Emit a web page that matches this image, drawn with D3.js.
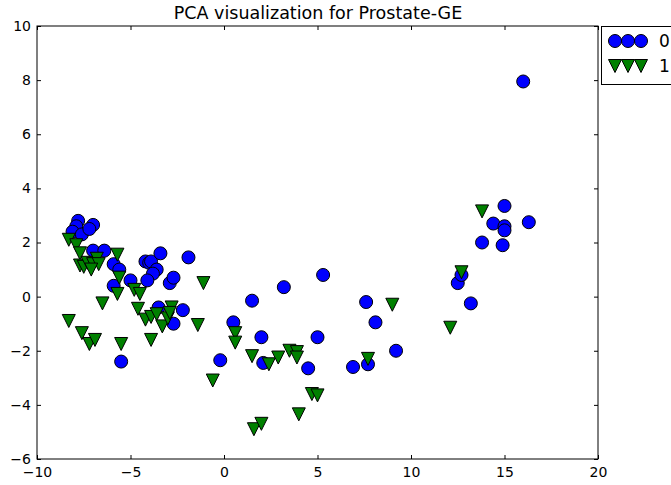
<!DOCTYPE html>
<html><head><meta charset="utf-8">
<script src="https://cdn.jsdelivr.net/npm/d3@7"></script>
<style>
body{margin:0;background:#fff;}
svg{display:block;font-family:"DejaVu Sans",sans-serif;}
</style></head>
<body><svg id="c" width="671" height="485"></svg>
<script>
const title = "PCA visualization for Prostate-GE";
const classLabels = ["0", "1"];
const xTicks = [-10, -5, 0, 5, 10, 15, 20];
const yTicks = [-6, -4, -2, 0, 2, 4, 6, 8, 10];

const class0X = [-7.8,-7.9,-8.1,-7.6,-7.0,-7.2,-7.0,-6.4,-5.9,-5.6,-5.9,-5.5,-5.0,-4.2,-4.0,-3.9,-3.6,-3.8,-3.4,-2.9,-2.7,-4.1,-1.9,-3.5,-2.2,-2.7,-0.2,0.5,1.5,2.0,2.1,3.2,4.5,5.0,5.3,6.9,7.7,7.6,8.1,9.2,12.5,12.7,13.2,13.8,14.4,14.9,15.0,15.0,15.0,16.3,16.0];
const class0Y = [2.8,2.6,2.4,2.3,2.65,2.5,1.7,1.7,1.2,1.0,0.4,-2.4,0.6,1.3,1.25,1.3,1.0,0.85,1.6,0.5,0.7,0.6,1.45,-0.4,-0.5,-1.0,-2.35,-0.95,-0.15,-1.5,-2.45,0.35,-2.65,-1.5,0.8,-2.6,-2.5,-0.2,-0.95,-2.0,0.5,0.8,-0.25,2.0,2.7,1.9,2.6,2.45,3.35,2.75,7.95];

const class1X = [-8.3,-7.9,-7.7,-7.7,-7.5,-7.3,-7.0,-6.8,-6.7,-7.1,-5.7,-5.6,-5.7,-6.5,-8.3,-7.6,-7.2,-6.9,-5.5,-4.8,-4.5,-4.6,-4.2,-3.9,-3.6,-3.9,-3.3,-3.0,-2.8,-2.9,-1.1,-1.4,-0.6,0.6,0.6,1.5,2.4,1.6,2.0,2.9,3.5,3.9,3.9,4.0,4.7,5.0,7.7,9.0,12.1,12.7,13.8];
const class1Y = [2.1,1.9,1.6,1.15,1.1,1.25,1.2,1.4,1.2,1.0,1.55,0.7,0.1,-0.25,-0.9,-1.35,-1.75,-1.6,-1.75,0.25,0.1,-0.45,-0.85,-0.75,-0.65,-1.6,-1.1,-0.8,-0.4,-0.6,0.5,-1.05,-3.1,-1.35,-1.7,-2.2,-2.5,-4.9,-4.7,-2.25,-2.0,-2.05,-2.25,-4.35,-3.6,-3.65,-2.3,-0.3,-1.15,0.9,3.15];

const svg = d3.select("#c");
const L = 37, R = 598, T = 26, B = 459;
const x = d3.scaleLinear().domain([-10, 20]).range([L, R]);
const y = d3.scaleLinear().domain([-6, 10]).range([B, T]);
const fmt = d => d < 0 ? "\u2212" + Math.abs(d) : String(d);

const tl = 4;
svg.append("g").attr("transform", `translate(0,${B})`)
  .call(d3.axisBottom(x).tickValues(xTicks).tickFormat(fmt).tickSizeInner(-tl).tickSizeOuter(0).tickPadding(8))
  .call(g => g.select(".domain").remove());
svg.append("g").attr("transform", `translate(0,${T})`)
  .call(d3.axisTop(x).tickValues(xTicks).tickFormat("").tickSizeInner(-tl).tickSizeOuter(0))
  .call(g => g.select(".domain").remove());
svg.append("g").attr("transform", `translate(${L},0)`)
  .call(d3.axisLeft(y).tickValues(yTicks).tickFormat(fmt).tickSizeInner(-tl).tickSizeOuter(0).tickPadding(6))
  .call(g => g.select(".domain").remove());
svg.append("g").attr("transform", `translate(${R},0)`)
  .call(d3.axisRight(y).tickValues(yTicks).tickFormat("").tickSizeInner(-tl).tickSizeOuter(0))
  .call(g => g.select(".domain").remove());
svg.selectAll(".tick text").attr("font-size", 14).attr("fill", "#000").attr("font-family", "DejaVu Sans");
svg.selectAll(".tick line").attr("stroke", "#000");

const size = 13;
const tri = d3.symbol().type({draw(ctx, s){ const h = size/2; ctx.moveTo(0,h); ctx.lineTo(-h,-h); ctx.lineTo(h,-h); ctx.closePath(); }}).size(1);

const pts0 = class0X.map((v,i)=>[v, class0Y[i]]);
const pts1 = class1X.map((v,i)=>[v, class1Y[i]]);

svg.append("g").selectAll("circle").data(pts0).join("circle")
  .attr("cx", d => x(d[0])).attr("cy", d => y(d[1])).attr("r", size/2)
  .attr("fill", "#0000ff").attr("stroke", "#000").attr("stroke-width", 1);
svg.append("g").selectAll("path").data(pts1).join("path")
  .attr("d", tri).attr("transform", d => `translate(${x(d[0])},${y(d[1])})`)
  .attr("fill", "#008000").attr("stroke", "#000").attr("stroke-width", 1);

svg.append("rect").attr("x", L).attr("y", T).attr("width", R-L).attr("height", B-T)
  .attr("fill", "none").attr("stroke", "#000").attr("stroke-width", 1);

svg.append("text").attr("x", (L+R)/2 + 0.5).attr("y", 19).attr("text-anchor", "middle")
  .attr("font-size", 17.5).text(title);

const lg = svg.append("g");
lg.append("rect").attr("x", 601.5).attr("y", 26.5).attr("width", 90).attr("height", 58)
  .attr("fill", "#fff").attr("stroke", "#000").attr("stroke-width", 1);
const mx = [615, 628, 641];
[41, 66].forEach((ly, k) => {
  mx.forEach(cx => {
    if (k === 0) lg.append("circle").attr("cx", cx).attr("cy", ly).attr("r", size/2)
      .attr("fill", "#0000ff").attr("stroke", "#000");
    else lg.append("path").attr("d", tri).attr("transform", `translate(${cx},${ly})`)
      .attr("fill", "#008000").attr("stroke", "#000");
  });
  lg.append("text").attr("x", 659).attr("y", ly + 6).attr("font-size", 17).text(classLabels[k]);
});
</script></body></html>
